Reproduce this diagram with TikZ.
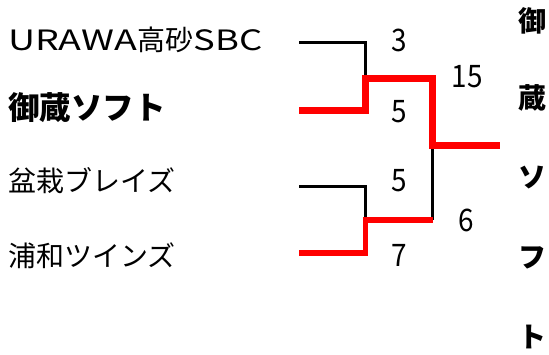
\documentclass[tikz,border=0pt]{standalone}
\usepackage{fontspec}
\setmainfont{Noto Sans CJK JP}
\begin{document}
\begin{tikzpicture}[x=1pt,y=-1pt,
  team/.style={anchor=west,inner sep=0pt,font=\fontsize{28}{28}\selectfont},
  winner/.style={anchor=west,inner sep=0pt,font=\fontsize{31.5}{31.5}\selectfont\bfseries},
  score/.style={inner sep=0pt,font=\fontsize{31}{31}\selectfont,xscale=0.9},
  vchar/.style={inner sep=0pt,font=\fontsize{28}{28}\selectfont\bfseries},
  lose/.style={line width=3pt,black},
  win/.style={line width=7pt,red,line join=miter},
  win2/.style={line width=5.5pt,red,line join=miter}]
\useasboundingbox (0,0) rectangle (549,354);
% teams
\node[team] (t1) at (8,40) {\scalebox{1.34}[1]{URAWA}高砂\scalebox{1.3}[1]{SBC}};
\node[winner] (t2) at (8,108) {御蔵ソフト};
\node[team] (t3) at (8,181) {盆栽ブレイズ};
\node[team] (t4) at (8,256) {浦和ツインズ};
% bracket points
\coordinate (a1) at (299,42);
\coordinate (a2) at (299,110.5);
\coordinate (a3) at (299,186);
\coordinate (a4) at (299,253);
\coordinate (m1) at (365.5,78.5);
\coordinate (m2) at (365.5,220);
\coordinate (f1) at (432.5,78.5);
\coordinate (f2) at (432.5,220);
\coordinate (fm) at (432.5,145);
\coordinate (ch) at (500,145);
% losers
\draw[lose] (a1) -| (m1);
\draw[lose] (a3) -| (m2);
\draw[lose] (fm) -- (f2);
% winners
\draw[win] (a2) -| (m1) -- (f1) |- (ch);
\draw[win2] (a4) -| (m2) -- (f2);
% scores
\node[score] (s1) at (399,40) {3};
\node[score] (s2) at (399,112) {5};
\node[score] (s3) at (399,181) {5};
\node[score] (s4) at (399,255) {7};
\node[score] (s5) at (467,77) {15};
\node[score] (s6) at (466,220) {6};
% champion vertical
\node[vchar] (v1) at (532,21) {御};
\node[vchar] (v2) at (532,98) {蔵};
\node[vchar] (v3) at (532,178) {ソ};
\node[vchar] (v4) at (532,258) {フ};
\node[vchar] (v5) at (532,337) {ト};
\end{tikzpicture}
\end{document}
